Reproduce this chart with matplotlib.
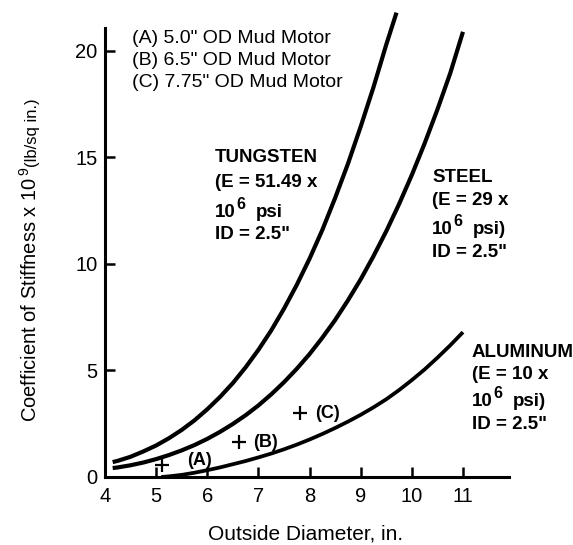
import matplotlib.pyplot as plt

# values (stiffness in 1e9 lb/sq in.)
tungsten_od = [4.15, 4.25, 4.5, 4.75, 5.0, 5.25, 5.5, 5.75, 6.0, 6.25, 6.5, 6.75, 7.0,
               7.25, 7.5, 7.75, 8.0, 8.25, 8.5, 8.75, 9.0, 9.25, 9.5, 9.7]
tungsten_k = [0.7, 0.76, 0.95, 1.2, 1.48, 1.82, 2.21, 2.66, 3.18, 3.76, 4.41, 5.15, 5.97,
              6.88, 7.9, 9.02, 10.25, 11.6, 13.1, 14.7, 16.45, 18.3, 20.3, 21.8]

steel_od = [4.15, 4.25, 4.5, 4.75, 5.0, 5.25, 5.5, 5.75, 6.0, 6.25, 6.5, 6.75, 7.0, 7.25,
            7.5, 7.75, 8.0, 8.25, 8.5, 8.75, 9.0, 9.25, 9.5, 9.75, 10.0, 10.25, 10.5, 10.75, 11.0]
steel_k = [0.42, 0.45, 0.55, 0.68, 0.84, 1.03, 1.25, 1.5, 1.79, 2.12, 2.49, 2.9, 3.36, 3.88,
           4.45, 5.08, 5.77, 6.54, 7.37, 8.29, 9.28, 10.37, 11.54, 12.81, 14.18, 15.66, 17.25,
           18.95, 20.9]

alum_od = [5.1, 5.25, 5.5, 5.75, 6.0, 6.25, 6.5, 6.75, 7.0, 7.25, 7.5, 7.75, 8.0, 8.25,
           8.5, 8.75, 9.0, 9.25, 9.5, 9.75, 10.0, 10.25, 10.5, 10.75, 11.0]
alum_k = [0.0, 0.03, 0.1, 0.2, 0.32, 0.45, 0.6, 0.75, 0.92, 1.1, 1.3, 1.52, 1.76, 2.02,
          2.3, 2.6, 2.92, 3.27, 3.65, 4.08, 4.55, 5.05, 5.6, 6.18, 6.8]

motor_labels = ["(A)", "(B)", "(C)"]
motor_od = [5.11, 6.62, 7.81]
motor_k = [0.56, 1.64, 3.0]

legend_lines = ['(A) 5.0" OD Mud Motor', '(B) 6.5" OD Mud Motor', '(C) 7.75" OD Mud Motor']

materials = ["TUNGSTEN", "STEEL", "ALUMINUM"]
modulus_lines = ["(E = 51.49 x", "(E = 29 x", "(E = 10 x"]
psi_tails = ["psi", "psi)", "psi)"]

plt.rcParams['font.family'] = ['Liberation Sans', 'DejaVu Sans']
plt.rcParams['mathtext.fontset'] = 'custom'
plt.rcParams['mathtext.rm'] = 'Liberation Sans'

W, H = 573, 545
fig = plt.figure(figsize=(W / 100, H / 100), dpi=100)
ax = fig.add_axes([105 / W, 1 - 477 / H, (509 - 105) / W, 475 / H])


def ftext(px, py, s, **kw):
    # place text by pixel position (top-left origin)
    return fig.text(px / W, 1 - py / H, s, **kw)


ax.plot(tungsten_od, tungsten_k, color="black", lw=3.0, solid_capstyle="butt", clip_on=False)
ax.plot(steel_od, steel_k, color="black", lw=3.0, solid_capstyle="butt", clip_on=False)
ax.plot(alum_od, alum_k, color="black", lw=2.7, solid_capstyle="butt", clip_on=False)

ax.plot(motor_od, motor_k, "+", color="black", ms=10, mew=1.6, clip_on=False)
label_dx = [25, 14, 15]
label_dy = [5, 0, 0]
for lab, x, y, dx, dy in zip(motor_labels, motor_od, motor_k, label_dx, label_dy):
    ax.annotate(lab, (x, y), xytext=(dx * 0.72, dy * 0.72), textcoords="offset points",
                fontsize=13, fontweight="bold", va="center", ha="left")

ax.set_xlim(4, 11.9)
ax.set_ylim(0, 22.3)
ax.set_xticks([4, 5, 6, 7, 8, 9, 10, 11])
ax.set_yticks([0, 5, 10, 15, 20])
ax.tick_params(direction="in", length=7, width=1.8, labelsize=14.5)
ax.tick_params(axis="x", pad=7)
ax.tick_params(axis="y", pad=5.5)
for s in ["top", "right"]:
    ax.spines[s].set_visible(False)
ax.spines["left"].set_linewidth(2.2)
ax.spines["bottom"].set_linewidth(2.2)
ax.spines["left"].set_bounds(0, 21.1)

# material annotation blocks: left edge and line baselines in pixels
block_left = [215, 432, 472]
block_base = [[162, 187, 217, 239], [182, 205, 234, 257], [357, 379, 406, 429]]
bold = dict(fontsize=13.5, fontweight="bold", va="baseline", ha="left")
for name, emod, tail, left, bases in zip(materials, modulus_lines, psi_tails,
                                         block_left, block_base):
    ftext(left, bases[0], name, **bold)
    ftext(left, bases[1], emod, **bold)
    ftext(left, bases[2], "10", **bold)
    ftext(left + 21, bases[2] - 8, "6", fontsize=11.5, fontweight="bold", va="baseline")
    ftext(left + 41, bases[2], tail, **bold)
    ftext(left, bases[3], 'ID = 2.5"', **bold)

for line, base in zip(legend_lines, [43, 65, 87]):
    ftext(132, base, line, fontsize=14, va="baseline", ha="left")

ftext(37, 422, "Coefficient of Stiffness x 10$^{\\,9}$", rotation=90, fontsize=14.5,
      ha="left", va="baseline", rotation_mode="anchor")
ftext(37, 167, "(lb/sq in.)", rotation=90, fontsize=12, ha="left", va="baseline",
      rotation_mode="anchor")
ftext(306, 540, "Outside Diameter, in.", fontsize=15, ha="center", va="baseline")

fig.savefig("out.png", dpi=100)
